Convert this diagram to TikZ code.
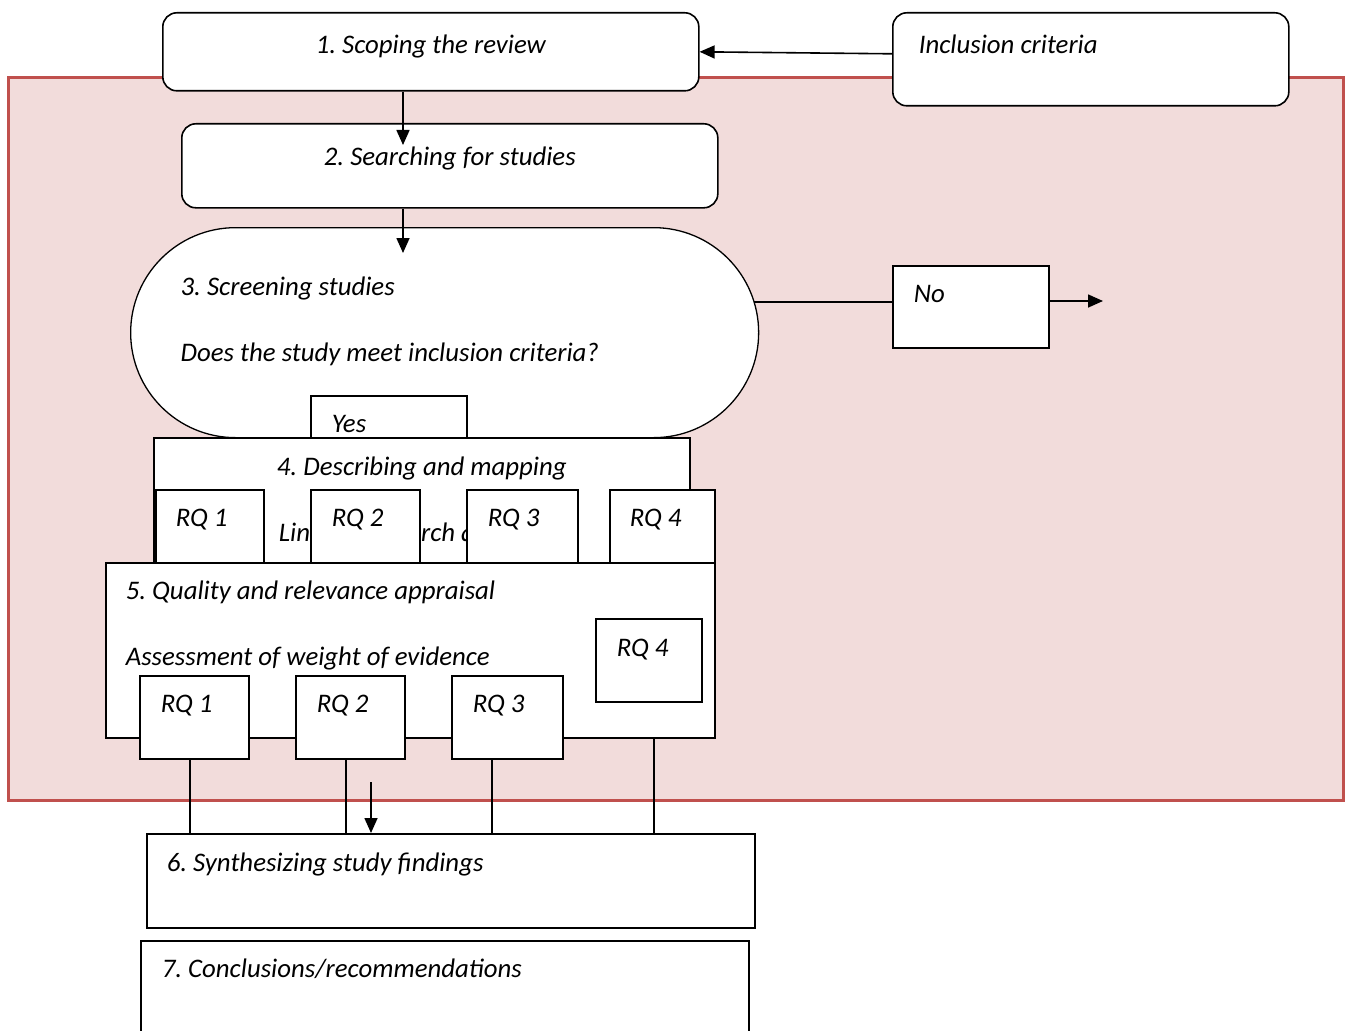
\documentclass[tikz,border=0pt]{standalone}
\usepackage{fontspec}
\setmainfont{Carlito}
\usetikzlibrary{arrows.meta}
\definecolor{panelred}{HTML}{C0504D}
\definecolor{panelpink}{HTML}{F2DCDB}

\begin{document}
\frenchspacing
\begin{tikzpicture}
	[x=1pt,y=-1pt,
	 every node/.style={font=\fontsize{26.8}{66}\selectfont\itshape},
	 box/.style={draw,line width=1.6pt,fill=white,anchor=north west,inner sep=0pt,align=flush left},
	 roundbox/.style={box,rounded corners=14pt},
	 sized/.style n args={4}{inner xsep=#1pt,text width=#2pt,text height=#3pt,text depth=#4pt},
	 panel/.style={draw=panelred,fill=panelpink,line width=3pt},
	 arr/.style={-{Triangle[length=15pt,width=13pt]},line width=1.6pt},
	 link/.style={line width=1.6pt}];
\useasboundingbox (0,0) rectangle (1351,1030);
\clip (0,0) rectangle (1351,1030);
\draw[panel] (8,78) rectangle (1343,800);

\node[roundbox,align=flush center,sized={0}{536}{41}{37}] (scope) at (162,12) {1. Scoping the review};
\node[roundbox,sized={26}{344}{41}{52}] (incl) at (892,12) {Inclusion criteria};
\draw[arr] ([yshift=5.5pt]incl.west) -- (scope.east);
\node[roundbox,align=flush center,sized={0}{536}{42}{42}] (search) at (181,123) {2. Searching for studies};
\coordinate (tip2) at (403,145);
\draw[arr] (scope.south -| tip2) -- (tip2);
\node[box,line width=1.3pt,rounded corners=105pt,sized={50}{528}{68}{142}] (screen) at (130,227)
	{3. Screening studies\\Does the study meet inclusion criteria?};
\coordinate (tip3) at (403,253);
\draw[arr] (search.south -| tip3) -- (tip3);
\node[box,sized={21}{114}{37}{45}] (no) at (892,265) {No};
\draw[link,shorten >=-5pt] ([yshift=5pt]no.west) -- ([yshift=5pt]no.west -| screen.east);
\coordinate (drop) at (1103,301);
\draw[arr] (no.east |- drop) -- (drop);
\node[box,sized={21}{114}{37}{13}] (yes) at (310,395) {Yes};

\node[box,align=flush center,sized={0}{536}{38}{87}] (map) at (153,437)
	{4. Describing and mapping\\Linking research questions};
\node[box,sized={20}{68}{37}{36}] (m1) at (155,489) {RQ 1};
\node[box,sized={21}{67}{37}{36}] (m2) at (310,489) {RQ 2};
\node[box,sized={21}{69}{37}{36}] (m3) at (466,489) {RQ 3};
\node[box,sized={20}{65}{37}{36}] (m4) at (609,489) {RQ 4};

\node[box,sized={20}{569}{37}{138}] (appr) at (105,562)
	{5. Quality and relevance appraisal\\Assessment of weight of evidence};
\node[box,sized={21}{64}{38}{45}] (a4) at (595,618) {RQ 4};
\node[box,sized={21}{67}{37}{46}] (a1) at (139,675) {RQ 1};
\node[box,sized={21}{67}{37}{46}] (a2) at (295,675) {RQ 2};
\node[box,sized={21}{69}{37}{46}] (a3) at (451,675) {RQ 3};

\node[box,sized={20}{568}{38}{56}] (synth) at (146,833) {6. Synthesizing study findings};
\coordinate (j1) at (190,833);
\coordinate (j2) at (346,833);
\coordinate (j3) at (492,833);
\coordinate (j4) at (654,833);
\draw[link] (a1.south -| j1) -- (j1);
\draw[link] (a2.south -| j2) -- (j2);
\draw[link] (a3.south -| j3) -- (j3);
\draw[link] (appr.south -| j4) -- (j4);
\coordinate (s1) at (371,782);
\draw[arr] (s1) -- (s1 |- synth.north);

\node[box,sized={21}{566}{37}{83}] (concl) at (140,940) {7. Conclusions/recommendations};
\end{tikzpicture}
\end{document}
